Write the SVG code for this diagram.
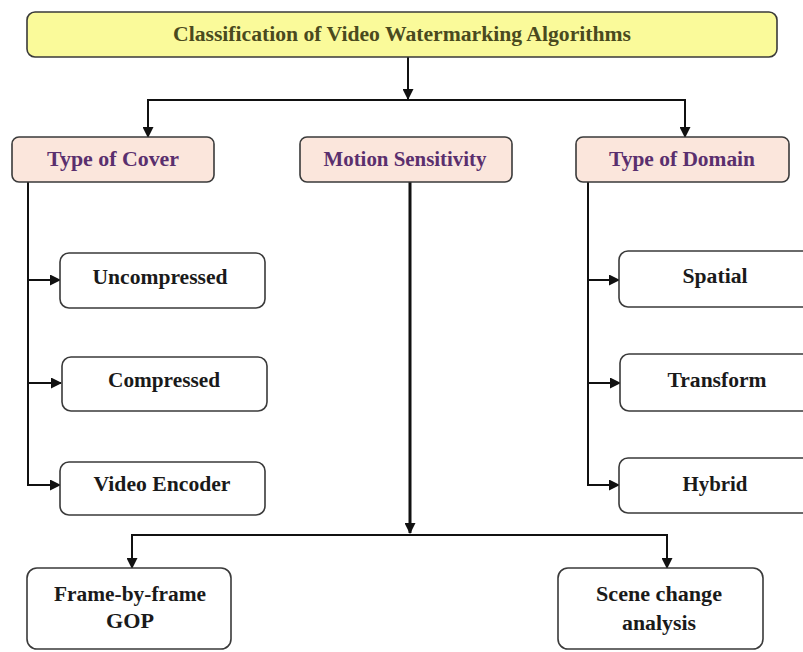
<svg xmlns="http://www.w3.org/2000/svg" width="803" height="652" viewBox="0 0 803 652">
<style>
.box{fill:#ffffff;stroke:#3a3a3a;stroke-width:1.6}
.cat{fill:#fbe6dc;stroke:#3a3a3a;stroke-width:1.6}
.ttl{fill:#fafa9a;stroke:#3a3a3a;stroke-width:1.6}
.ln{fill:none;stroke:#111;stroke-width:2}
.thick{fill:none;stroke:#111;stroke-width:3}
text{font-family:"Liberation Serif","Times New Roman",serif;font-weight:bold;text-anchor:middle}
.t0{font-size:20px;fill:#4a4a1e}
.t1{font-size:20px;fill:#5a2f6e}
.t2{font-size:20px;fill:#1a1a1a}
</style>
<defs>
<marker id="ah" markerWidth="11" markerHeight="11" refX="10" refY="5.5" orient="auto" markerUnits="userSpaceOnUse">
<path d="M0,0 L11,5.5 L0,11 z" fill="#111"/>
</marker>
</defs>
<rect width="803" height="652" fill="#ffffff"/>
<g id="connectors">
<line class="ln" x1="408" y1="57" x2="408" y2="99" marker-end="url(#ah)"/>
<line class="ln" x1="147" y1="100" x2="686" y2="100"/>
<line class="ln" x1="148" y1="100" x2="148" y2="137" marker-end="url(#ah)"/>
<line class="ln" x1="685" y1="100" x2="685" y2="137" marker-end="url(#ah)"/>
<line class="ln" x1="28" y1="182" x2="28" y2="485"/>
<line class="ln" x1="27" y1="280" x2="60" y2="280" marker-end="url(#ah)"/>
<line class="ln" x1="27" y1="383" x2="61" y2="383" marker-end="url(#ah)"/>
<line class="ln" x1="27" y1="485" x2="60" y2="485" marker-end="url(#ah)"/>
<line class="ln" x1="588" y1="182" x2="588" y2="485"/>
<line class="ln" x1="587" y1="280" x2="619" y2="280" marker-end="url(#ah)"/>
<line class="ln" x1="587" y1="383" x2="620" y2="383" marker-end="url(#ah)"/>
<line class="ln" x1="587" y1="485" x2="619" y2="485" marker-end="url(#ah)"/>
<line class="thick" x1="410" y1="182" x2="410" y2="533" marker-end="url(#ah)"/>
<line class="ln" x1="131" y1="535" x2="668" y2="535"/>
<line class="ln" x1="132" y1="535" x2="132" y2="568" marker-end="url(#ah)"/>
<line class="ln" x1="667" y1="535" x2="667" y2="568" marker-end="url(#ah)"/>
</g>
<g id="title">
<rect class="ttl" x="27" y="12" width="750" height="45" rx="8"/>
<text class="t0" x="402" y="41" textLength="458" lengthAdjust="spacingAndGlyphs">Classification of Video Watermarking Algorithms</text>
</g>
<g id="type-of-cover">
<rect class="cat" x="12" y="137" width="202" height="45" rx="7"/>
<text class="t1" x="113" y="166" textLength="132" lengthAdjust="spacingAndGlyphs">Type of Cover</text>
</g>
<g id="motion-sensitivity">
<rect class="cat" x="300" y="137" width="212" height="45" rx="7"/>
<text class="t1" x="405" y="166" textLength="163" lengthAdjust="spacingAndGlyphs">Motion Sensitivity</text>
</g>
<g id="type-of-domain">
<rect class="cat" x="576" y="137" width="213" height="45" rx="7"/>
<text class="t1" x="682" y="166" textLength="146" lengthAdjust="spacingAndGlyphs">Type of Domain</text>
</g>
<g id="uncompressed">
<rect class="box" x="60" y="253" width="205" height="55" rx="9"/>
<text class="t2" x="160" y="284" textLength="135" lengthAdjust="spacingAndGlyphs">Uncompressed</text>
</g>
<g id="compressed">
<rect class="box" x="62" y="357" width="205" height="54" rx="9"/>
<text class="t2" x="164" y="387" textLength="112" lengthAdjust="spacingAndGlyphs">Compressed</text>
</g>
<g id="video-encoder">
<rect class="box" x="60" y="462" width="205" height="53" rx="9"/>
<text class="t2" x="162" y="491" textLength="137" lengthAdjust="spacingAndGlyphs">Video Encoder</text>
</g>
<g id="spatial">
<rect class="box" x="619" y="251" width="200" height="56" rx="9"/>
<text class="t2" x="715" y="283" textLength="65" lengthAdjust="spacingAndGlyphs">Spatial</text>
</g>
<g id="transform">
<rect class="box" x="620" y="354" width="200" height="57" rx="9"/>
<text class="t2" x="717" y="387" textLength="99" lengthAdjust="spacingAndGlyphs">Transform</text>
</g>
<g id="hybrid">
<rect class="box" x="619" y="458" width="200" height="55" rx="9"/>
<text class="t2" x="715" y="491" textLength="65" lengthAdjust="spacingAndGlyphs">Hybrid</text>
</g>
<g id="frame-by-frame">
<rect class="box" x="27" y="568" width="204" height="81" rx="10"/>
<text class="t2" x="130" y="601" textLength="152" lengthAdjust="spacingAndGlyphs">Frame-by-frame</text>
<text class="t2" x="130" y="628" textLength="48" lengthAdjust="spacingAndGlyphs">GOP</text>
</g>
<g id="scene-change">
<rect class="box" x="558" y="568" width="205" height="81" rx="10"/>
<text class="t2" x="659" y="601" textLength="126" lengthAdjust="spacingAndGlyphs">Scene change</text>
<text class="t2" x="659" y="630" textLength="74" lengthAdjust="spacingAndGlyphs">analysis</text>
</g>
</svg>
